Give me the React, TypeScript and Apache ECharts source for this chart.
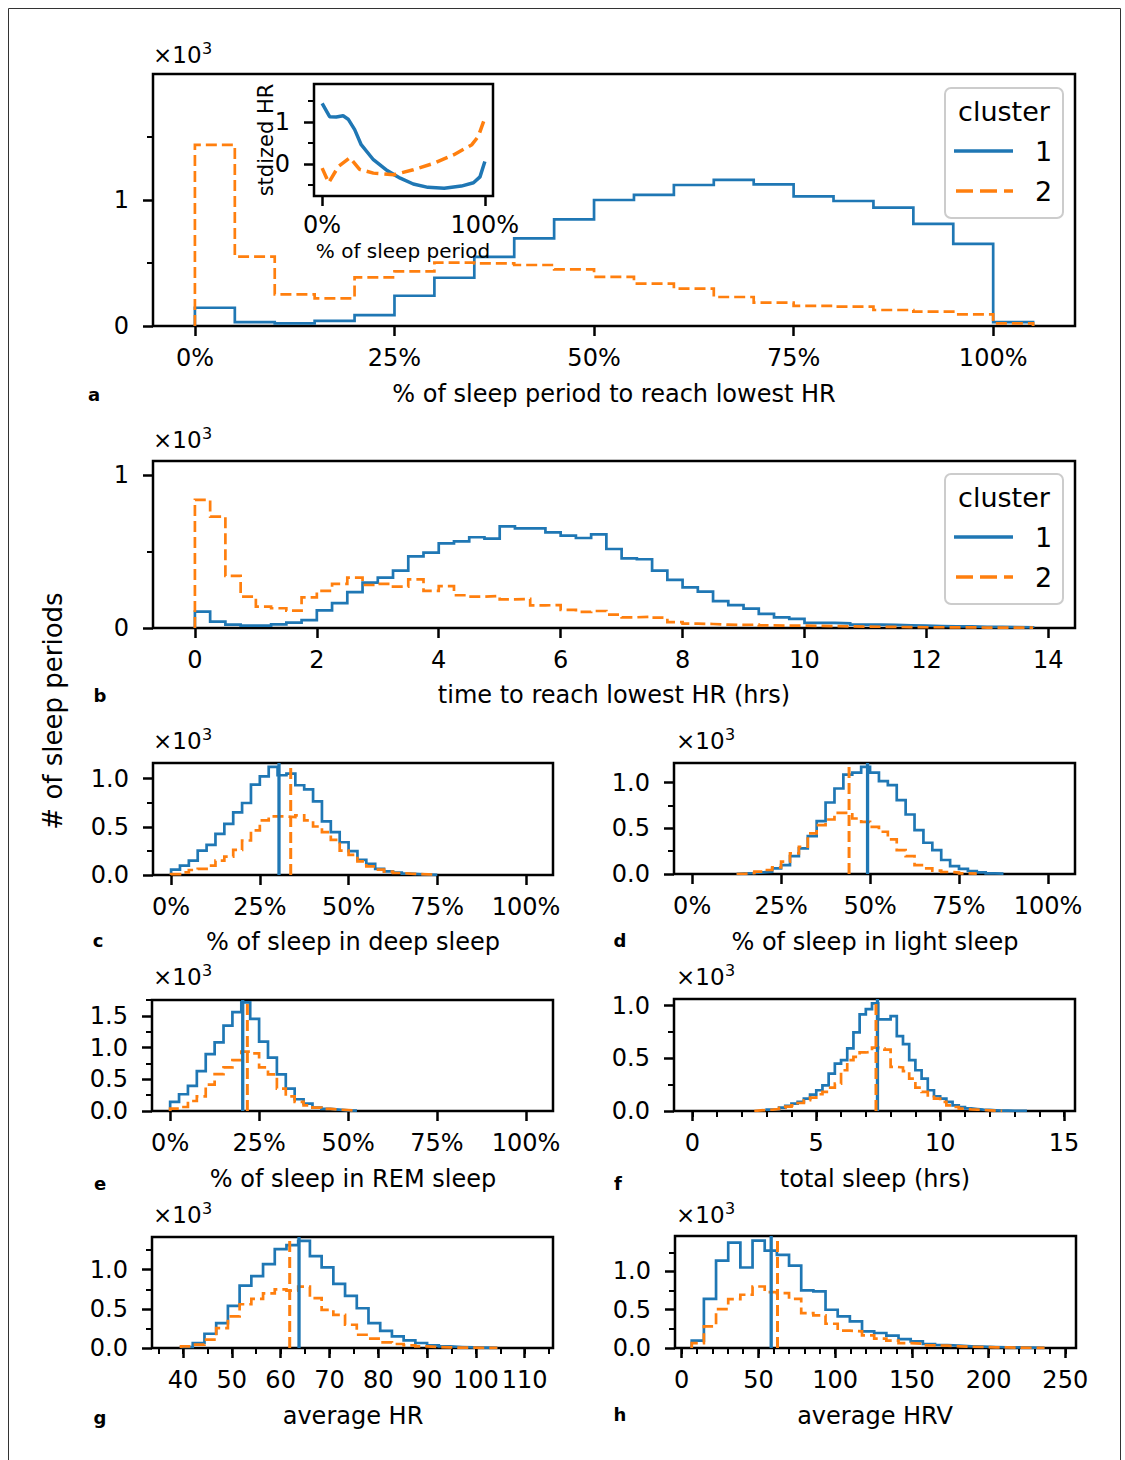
import React, { useEffect, useRef } from "react";
import * as echarts from "echarts";

const BLUE = "#1f77b4";
const ORANGE = "#ff7f0e";
const FONT = "DejaVu Sans";

// ---------- panel a : % of sleep period to reach lowest HR (bins of 5%) ----------
const A_START = 0;
const A_WIDTH = 5;
const A_C1 = [145, 30, 21, 40, 87, 240, 383, 548, 696, 847, 1000, 1040, 1119, 1159, 1124, 1029, 992, 939, 810, 651, 30];
const A_C2 = [1437, 550, 251, 219, 386, 434, 503, 497, 484, 450, 390, 336, 296, 230, 185, 159, 153, 127, 114, 93, 21];

// inset : standardized HR over the sleep period
const INSET_X1 = [0, 4.6, 8.7, 12.9, 16, 20, 24, 31.5, 40, 48, 56, 65, 75, 85.5, 93, 97, 100];
const INSET_Y1 = [1.45, 1.13, 1.12, 1.15, 1.07, 0.82, 0.46, 0.1, -0.16, -0.34, -0.48, -0.56, -0.58, -0.53, -0.45, -0.31, 0.06];
const INSET_X2 = [0, 4, 10, 17, 23, 31.5, 44, 56, 69, 81, 92, 96, 100];
const INSET_Y2 = [-0.1, -0.45, -0.06, 0.15, -0.13, -0.22, -0.26, -0.14, 0.02, 0.22, 0.46, 0.66, 1.1];

// ---------- panel b : time to reach lowest HR (bins of 0.25 h) ----------
const B_START = 0;
const B_WIDTH = 0.25;
const B_C1 = [107, 41, 22, 15, 16, 24, 35, 52, 115, 163, 235, 296, 329, 375, 468, 492, 553, 566, 593, 584, 664, 651, 651, 625, 603, 588, 612, 516, 455, 449, 375, 314, 266, 237, 176, 150, 126, 92, 70, 59, 33, 33, 30, 22, 22, 20, 17, 15, 13, 11, 10, 8, 7, 6, 5];
const B_C2 = [837, 728, 340, 205, 139, 129, 113, 200, 242, 288, 329, 281, 288, 270, 318, 242, 274, 214, 205, 209, 187, 190, 148, 150, 118, 105, 111, 87, 70, 74, 68, 39, 28, 26, 22, 20, 22, 17, 15, 15, 14, 12, 11, 9, 8, 7, 6, 5, 5, 4, 4, 3, 3, 2, 2];

// ---------- panel c : % deep sleep (bins of 2.5%) ----------
const C_START = 0;
const C_WIDTH = 2.5;
const C_C1 = [56, 97, 149, 253, 313, 427, 531, 649, 747, 938, 1024, 1122, 1035, 1052, 931, 889, 764, 556, 444, 340, 247, 156, 115, 63, 38, 24, 14, 10, 5, 2];
const C_C2 = [10, 28, 52, 63, 97, 149, 191, 260, 358, 462, 566, 608, 608, 601, 618, 566, 503, 444, 365, 253, 208, 142, 90, 56, 35, 21, 14, 10, 7, 3];
const C_MEANS = [30.4, 33.7];

// ---------- panel d : % light sleep ----------
const D_START = 12.5;
const D_WIDTH = 2.5;
const D_C1 = [7, 11, 18, 25, 62, 98, 196, 280, 415, 578, 782, 935, 1087, 1109, 1171, 1109, 1015, 971, 807, 651, 480, 342, 262, 153, 87, 55, 33, 18, 7, 4];
const D_C2 = [4, 11, 25, 44, 73, 135, 225, 298, 444, 535, 596, 669, 669, 607, 571, 516, 462, 378, 262, 196, 98, 62, 36, 22, 15, 7, 4];
const D_MEANS = [49.3, 44.1];

// ---------- panel e : % REM sleep ----------
const E_START = 0;
const E_WIDTH = 2.5;
const E_C1 = [143, 264, 396, 629, 898, 1083, 1347, 1558, 1712, 1453, 1093, 840, 576, 354, 185, 116, 53, 32, 21, 11, 5];
const E_C2 = [37, 63, 158, 232, 417, 581, 687, 803, 935, 909, 687, 576, 354, 232, 143, 90, 53, 32, 21, 16, 5];
const E_MEANS = [20.4, 21.7];

// ---------- panel f : total sleep (hrs), bins of 0.25 h ----------
const F_START1 = 3.0;
const F_START2 = 2.5;
const F_WIDTH = 0.25;
const F_C1 = [13, 16, 32, 48, 70, 86, 117, 156, 197, 244, 356, 451, 483, 594, 746, 917, 968, 1022, 870, 870, 902, 711, 635, 483, 387, 308, 197, 140, 117, 86, 54, 38, 25, 19, 13, 10, 6, 3, 3, 2, 1, 1];
const F_C2 = [6, 10, 13, 19, 29, 41, 54, 76, 102, 127, 159, 181, 222, 260, 387, 483, 514, 556, 562, 603, 594, 584, 419, 413, 378, 308, 222, 181, 149, 117, 86, 54, 38, 22, 16, 13, 10, 6, 3, 2];
const F_MEANS = [7.47, 7.41];

// ---------- panel g : average HR ----------
const G_START = 39.6;
const G_WIDTH = 2.4;
const G_C1 = [13, 64, 182, 318, 538, 797, 919, 1072, 1263, 1314, 1369, 1174, 1030, 818, 665, 508, 318, 220, 148, 97, 64, 34, 21, 13, 8, 4, 2];
const G_C2 = [21, 42, 106, 254, 403, 559, 627, 699, 750, 733, 784, 636, 487, 424, 297, 169, 119, 72, 51, 34, 21, 13, 8, 4, 4, 2, 1];
const G_MEANS = [63.77, 61.86];

// ---------- panel h : average HRV ----------
const H_START = 6.5;
const H_WIDTH = 7.93;
const H_C1 = [96, 643, 1143, 1378, 1052, 1404, 1274, 1217, 1078, 752, 739, 500, 413, 348, 217, 196, 161, 117, 87, 52, 39, 30, 22, 17, 13, 10, 7, 4, 2];
const H_C2 = [65, 283, 509, 639, 696, 804, 730, 717, 643, 457, 426, 317, 226, 217, 165, 122, 96, 65, 57, 35, 30, 22, 17, 13, 9, 7, 4, 3, 2];
const H_MEANS = [58.3, 62.4];

// tick values
const PCT_TICKS = [0, 25, 50, 75, 100];
const A_Y_TICKS = [0, 1000];
const A_Y_MINOR = [500, 1500];
const B_X_TICKS = [0, 2, 4, 6, 8, 10, 12, 14];
const B_Y_MINOR = [500];
const SMALL_Y_TICKS = [0, 500, 1000];
const E_Y_TICKS = [0, 500, 1000, 1500];
const F_X_TICKS = [0, 5, 10, 15];
const G_X_TICKS = [40, 50, 60, 70, 80, 90, 100, 110];
const H_X_TICKS = [0, 50, 100, 150, 200, 250];
const INSET_X_TICKS = [0, 100];
const INSET_Y_TICKS = [0, 1];
const INSET_Y_MINOR = [-0.5, 0.5, 1.5];

function range(a: number, b: number, s: number) {
  const out: number[] = [];
  for (let v = a; v <= b + 1e-9; v += s) out.push(+v.toFixed(4));
  return out;
}

function stepPts(start: number, width: number, vals: number[]) {
  const pts: number[][] = [[start, 0]];
  vals.forEach((v, i) => {
    pts.push([start + i * width, v]);
    pts.push([start + (i + 1) * width, v]);
  });
  pts.push([start + vals.length * width, 0]);
  return pts;
}

const DASH = [11, 5];

function buildOption() {
  const grids: any[] = [];
  const xAxes: any[] = [];
  const yAxes: any[] = [];
  const series: any[] = [];

  const tickLabel = (fmt: (v: number) => string, values: number[], margin: number) => ({
    show: true,
    customValues: values,
    formatter: (v: number) => fmt(v),
    margin,
    fontSize: 24,
    fontFamily: FONT,
    color: "#000",
  });

  function axis(dim: "x" | "y", gi: number, min: number, max: number, majors: number[], fmt: (v: number) => string, xMargin = 20) {
    return {
      type: "value",
      gridIndex: gi,
      min,
      max,
      position: dim === "x" ? "bottom" : "left",
      axisLine: { show: false, onZero: false },
      splitLine: { show: false },
      minorTick: { show: false },
      minorSplitLine: { show: false },
      axisTick: { show: true, inside: false, customValues: majors, length: 10, lineStyle: { color: "#000", width: 2.5 } },
      axisLabel: tickLabel(fmt, majors, dim === "x" ? xMargin : 24),
    };
  }
  function minorAxis(dim: "x" | "y", gi: number, min: number, max: number, minors: number[]) {
    return {
      type: "value",
      gridIndex: gi,
      min,
      max,
      position: dim === "x" ? "bottom" : "left",
      axisLine: { show: false, onZero: false },
      splitLine: { show: false },
      axisTick: { show: true, inside: false, customValues: minors, length: 6, lineStyle: { color: "#000", width: 2 } },
      axisLabel: { show: false },
    };
  }

  function panel(p: any) {
    const gi = grids.length;
    grids.push({
      left: p.left, top: p.top, width: p.width, height: p.height,
      show: true, borderColor: "#000", borderWidth: 2.5,
      backgroundColor: p.bg || "transparent",
      containLabel: false, outerBoundsMode: "none",
      z: p.z || 0,
    });
    const xi = xAxes.length;
    xAxes.push(axis("x", gi, p.xmin, p.xmax, p.xMajor, p.xFmt, p.xMargin || 20));
    if (p.xMinor) xAxes.push(minorAxis("x", gi, p.xmin, p.xmax, p.xMinor));
    const yi = yAxes.length;
    yAxes.push(axis("y", gi, p.ymin, p.ymax, p.yMajor, p.yFmt));
    if (p.yMinor) yAxes.push(minorAxis("y", gi, p.ymin, p.ymax, p.yMinor));
    return { xi, yi, ymax: p.ymax };
  }

  function line(ax: any, data: number[][], color: string, dashed: boolean, width = 2.7, z = 2) {
    series.push({
      type: "line",
      xAxisIndex: ax.xi,
      yAxisIndex: ax.yi,
      data,
      symbol: "none",
      showSymbol: false,
      silent: true,
      z,
      lineStyle: { color, width, type: dashed ? DASH : "solid", join: "miter", cap: "butt" },
    });
  }

  function hist(ax: any, s1: number, v1: number[], s2: number, v2: number[], w: number, means?: number[]) {
    line(ax, stepPts(s1, w, v1), BLUE, false);
    line(ax, stepPts(s2, w, v2), ORANGE, true);
    if (means) {
      line(ax, [[means[0], 0], [means[0], ax.ymax]], BLUE, false, 3.3, 3);
      line(ax, [[means[1], 0], [means[1], ax.ymax]], ORANGE, true, 3, 3);
    }
  }

  const pct = (v: number) => `${v}%`;
  const num = (v: number) => `${v}`;
  const k0 = (v: number) => `${v / 1000}`;
  const k1 = (v: number) => (v / 1000).toFixed(1);

  // a
  const a = panel({ left: 153, top: 74, width: 922, height: 252, xmin: -5.25, xmax: 110.25, xMajor: PCT_TICKS, xFmt: pct, ymin: 0, ymax: 2000, yMajor: A_Y_TICKS, yFmt: k0, yMinor: A_Y_MINOR });
  hist(a, A_START, A_C1, A_START, A_C2, A_WIDTH);

  // b
  const b = panel({ left: 153, top: 461, width: 922, height: 167, xmin: -0.6875, xmax: 14.4375, xMajor: B_X_TICKS, xFmt: num, ymin: 0, ymax: 1091, yMajor: A_Y_TICKS, yFmt: k0, yMinor: B_Y_MINOR });
  hist(b, B_START, B_C1, B_START, B_C2, B_WIDTH);

  // c
  const c = panel({ left: 153, top: 763, width: 400, height: 112, xmin: -5.1, xmax: 107.6, xMajor: PCT_TICKS, xFmt: pct, ymin: 0, ymax: 1162, yMajor: SMALL_Y_TICKS, yFmt: k1, yMinor: [250, 750] });
  hist(c, C_START, C_C1, C_START, C_C2, C_WIDTH, C_MEANS);

  // d
  const d = panel({ left: 674, top: 763, width: 401, height: 111, xmin: -5.1, xmax: 107.6, xMajor: PCT_TICKS, xFmt: pct, ymin: 0, ymax: 1214, yMajor: SMALL_Y_TICKS, yFmt: k1, yMinor: [250, 750] });
  hist(d, D_START, D_C1, D_START, D_C2, D_WIDTH, D_MEANS);

  // e
  const e = panel({ left: 152, top: 1000, width: 401, height: 111, xmin: -5.1, xmax: 107.6, xMajor: PCT_TICKS, xFmt: pct, ymin: 0, ymax: 1750, yMajor: E_Y_TICKS, yFmt: k1, yMinor: [250, 750, 1250, 1750] });
  hist(e, E_START, E_C1, E_START, E_C2, E_WIDTH, E_MEANS);

  // f
  const f = panel({ left: 674, top: 999, width: 401, height: 112, xmin: -0.74, xmax: 15.44, xMajor: F_X_TICKS, xFmt: num, xMinor: range(0, 15, 1), ymin: 0, ymax: 1064, yMajor: SMALL_Y_TICKS, yFmt: k1, yMinor: [250, 750] });
  hist(f, F_START1, F_C1, F_START2, F_C2, F_WIDTH, F_MEANS);

  // g
  const g = panel({ left: 152, top: 1237, width: 401, height: 111, xmin: 33.65, xmax: 115.8, xMajor: G_X_TICKS, xFmt: num, xMinor: range(35, 115, 5), ymin: 0, ymax: 1418, yMajor: SMALL_Y_TICKS, yFmt: k1, yMinor: [250, 750, 1250] });
  hist(g, G_START, G_C1, G_START, G_C2, G_WIDTH, G_MEANS);

  // h
  const h = panel({ left: 675, top: 1236, width: 401, height: 112, xmin: -4.4, xmax: 257, xMajor: H_X_TICKS, xFmt: num, xMinor: range(0, 250, 10), ymin: 0, ymax: 1464, yMajor: SMALL_Y_TICKS, yFmt: k1, yMinor: [250, 750, 1250] });
  hist(h, H_START, H_C1, H_START, H_C2, H_WIDTH, H_MEANS);

  // inset in a
  const ins = panel({ left: 314, top: 84, width: 179, height: 112, xmin: -5, xmax: 105, xMajor: INSET_X_TICKS, xFmt: pct, xMargin: 17, ymin: -0.767, ymax: 1.911, yMajor: INSET_Y_TICKS, yFmt: num, yMinor: INSET_Y_MINOR, bg: "#fff", z: 5 });
  series.push({
    type: "line", xAxisIndex: ins.xi, yAxisIndex: ins.yi, symbol: "none", silent: true, z: 6,
    data: INSET_X1.map((x, i) => [x, INSET_Y1[i]]),
    lineStyle: { color: BLUE, width: 3.5 },
  });
  series.push({
    type: "line", xAxisIndex: ins.xi, yAxisIndex: ins.yi, symbol: "none", silent: true, z: 6,
    data: INSET_X2.map((x, i) => [x, INSET_Y2[i]]),
    lineStyle: { color: ORANGE, width: 3.5, type: [12, 6] },
  });

  // ---------- graphic texts ----------
  const gfx: any[] = [];
  const txt = (text: string, x: number, y: number, size: number, opts: any = {}) => {
    gfx.push({
      type: "text", x, y, rotation: opts.rotation || 0, z: 10,
      style: {
        text, fill: "#000", fontSize: size, fontFamily: FONT, fontWeight: opts.bold ? "bold" : "normal",
        align: opts.align || "center", verticalAlign: "middle",
        textAlign: opts.align || "center", textVerticalAlign: "middle",
      },
    });
  };
  // figure frame
  gfx.push({ type: "rect", z: 0, shape: { x: 8.5, y: 8.5, width: 1112, height: 1480 }, style: { fill: "none", stroke: "#333", lineWidth: 1 } });

  const exps = [[153, 55], [153, 440], [153, 741], [676, 741], [153, 977], [676, 977], [153, 1215], [676, 1215]];
  exps.forEach(([x, y]) => {
    txt("×10", x, y, 23, { align: "left" });
    txt("3", x + 49, y - 7, 16, { align: "left" });
  });

  txt("% of sleep period to reach lowest HR", 614, 394, 24);
  txt("time to reach lowest HR (hrs)", 614, 695, 24);
  txt("% of sleep in deep sleep", 353, 942, 24);
  txt("% of sleep in light sleep", 875, 942, 24);
  txt("% of sleep in REM sleep", 353, 1179, 24);
  txt("total sleep (hrs)", 875, 1179, 24);
  txt("average HR", 353, 1416, 24);
  txt("average HRV", 875, 1416, 24);

  const letters: [string, number, number][] = [["a", 94, 394], ["b", 100, 695], ["c", 98, 940], ["d", 620, 940], ["e", 100, 1183], ["f", 618, 1183], ["g", 100, 1417], ["h", 620, 1414]];
  letters.forEach(([l, x, y]) => txt(l, x, y, 18, { bold: true }));

  txt("# of sleep periods", 53, 711, 26, { rotation: Math.PI / 2 });
  txt("stdized HR", 266, 140, 21, { rotation: Math.PI / 2 });
  txt("% of sleep period", 403, 251, 20);

  // legends
  const legend = (top: number) => {
    gfx.push({ type: "rect", z: 8, shape: { x: 945, y: top, width: 118, height: 130, r: 6 }, style: { fill: "rgba(255,255,255,0.8)", stroke: "#cccccc", lineWidth: 2 } });
    txt("cluster", 1004, top + 23, 27);
    gfx.push({ type: "line", z: 9, shape: { x1: 954, y1: top + 63, x2: 1013, y2: top + 63 }, style: { stroke: BLUE, lineWidth: 3.5 } });
    gfx.push({ type: "line", z: 9, shape: { x1: 956, y1: top + 103, x2: 1013, y2: top + 103 }, style: { stroke: ORANGE, lineWidth: 3.5, lineDash: [17, 7] } });
    txt("1", 1035, top + 63, 27, { align: "left" });
    txt("2", 1035, top + 103, 27, { align: "left" });
  };
  legend(88);
  legend(474);

  return {
    animation: false,
    backgroundColor: "#fff",
    textStyle: { fontFamily: FONT },
    grid: grids,
    xAxis: xAxes,
    yAxis: yAxes,
    series,
    graphic: { elements: gfx },
  };
}

export default function App() {
  const ref = useRef<HTMLDivElement>(null);
  useEffect(() => {
    if (!ref.current) return;
    const chart = echarts.init(ref.current, undefined, { renderer: "svg" });
    chart.setOption(buildOption() as any);
    return () => chart.dispose();
  }, []);
  return <div ref={ref} style={{ position: "absolute", left: 0, top: 0, width: 1125, height: 1460 }} />;
}
